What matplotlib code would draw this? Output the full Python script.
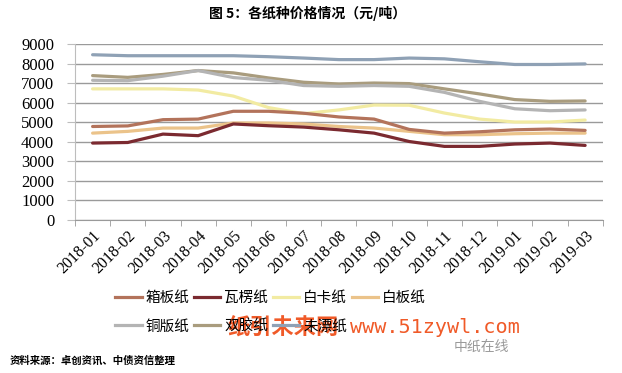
import numpy as np
import matplotlib
matplotlib.use("Agg")
import matplotlib.pyplot as plt
from matplotlib.lines import Line2D

plt.rcParams['font.family'] = ['Noto Sans CJK SC', 'DejaVu Sans']

# category labels and series (yuan / ton)
months = ["2018-01", "2018-02", "2018-03", "2018-04", "2018-05", "2018-06",
          "2018-07", "2018-08", "2018-09", "2018-10", "2018-11", "2018-12",
          "2019-01", "2019-02", "2019-03"]
names = ["箱板纸", "瓦楞纸", "白卡纸", "白板纸", "铜版纸", "双胶纸", "未漂纸"]

xiangban = [4770, 4800, 5120, 5150, 5550, 5550, 5450, 5260, 5150, 4620, 4430, 4500, 4600, 4640, 4570]
waleng   = [3920, 3950, 4380, 4300, 4900, 4810, 4740, 4600, 4430, 4000, 3750, 3750, 3870, 3920, 3800]
baika    = [6700, 6700, 6700, 6640, 6330, 5740, 5430, 5620, 5870, 5860, 5460, 5150, 5000, 5000, 5100]
baiban   = [4430, 4520, 4690, 4690, 4950, 4950, 4900, 4770, 4690, 4520, 4350, 4350, 4400, 4430, 4430]
tongban  = [7140, 7120, 7350, 7640, 7280, 7140, 6870, 6830, 6870, 6830, 6520, 6060, 5680, 5580, 5620]
shuangjiao = [7380, 7290, 7440, 7640, 7520, 7260, 7040, 6950, 7000, 6970, 6700, 6440, 6150, 6060, 6080]
weipiao  = [8450, 8400, 8400, 8400, 8400, 8350, 8280, 8200, 8200, 8280, 8240, 8090, 7950, 7950, 7980]

series = [xiangban, waleng, baika, baiban, tongban, shuangjiao, weipiao]
colors = ["#B3735B", "#7B2A30", "#F2EBA2", "#EBC38A", "#B4B4B4", "#A99C7E", "#8FA1B5"]

fig = plt.figure(figsize=(6.22, 3.73), dpi=100)
ax = fig.add_axes([0.1206, 0.4115, 0.8484, 0.4705])

x = np.arange(len(months))
# draw order: dark red and brown end up on top, as in the original
order = [6, 5, 4, 2, 3, 0, 1]
for i in order:
    ax.plot(x, series[i], color=colors[i], lw=2.3, solid_capstyle="round", zorder=3)

ax.set_xlim(-0.5, len(months) - 0.5)
ax.set_ylim(0, 9000)
ax.set_yticks(range(0, 9001, 1000))
ax.yaxis.grid(True, color="#9A9A9A", lw=1.0)
ax.set_axisbelow(True)

for s in ["top", "right"]:
    ax.spines[s].set_visible(False)
ax.spines["left"].set_color("#BDBDBD")
ax.spines["bottom"].set_color("#9A9A9A")

ax.set_xticks(x)
ax.set_xticklabels(months, rotation=45, ha="right", rotation_mode="anchor",
                   family="Liberation Serif", fontsize=11.5)
ax.set_xticks(np.arange(-0.5, len(months)), minor=True)
ax.tick_params(axis="x", which="major", length=0, pad=6)
ax.tick_params(axis="x", which="minor", length=4, color="#9A9A9A", direction="out")
ax.tick_params(axis="y", length=6, color="#BDBDBD", pad=9)
for lbl in ax.get_yticklabels():
    lbl.set_family("Liberation Serif")
    lbl.set_fontsize(12)

fig.text(0.495, 0.963, "图 5：各纸种价格情况（元/吨）", ha="center", va="center",
         fontsize=10, fontweight="bold")

handles = [Line2D([], [], color=c, lw=2.3) for c in colors]
leg_order = [0, 4, 1, 5, 2, 6, 3]
fig.legend([handles[i] for i in leg_order], [names[i] for i in leg_order],
           ncol=4, loc="center", bbox_to_anchor=(0.435, 0.163), frameon=False,
           fontsize=10.5, handlelength=1.8, handletextpad=0.25, columnspacing=0.35,
           labelspacing=1.0, borderpad=0.1)

# watermark and source line
fig.text(0.365, 0.123, "纸引未来网", ha="left", va="center", fontsize=16,
         color="#F05A28", fontweight="bold")
fig.text(0.562, 0.123, "www.51zywl.com", ha="left", va="center", fontsize=14.5,
         color="#F05A28", family="DejaVu Sans Mono")
fig.text(0.73, 0.07, "中纸在线", ha="left", va="center", fontsize=10, color="#9A9A9A")
fig.text(0.016, 0.032, "资料来源：卓创资讯、中债资信整理", ha="left", va="center",
         fontsize=7.5, fontweight="bold")

fig.savefig("out.png", dpi=100)
